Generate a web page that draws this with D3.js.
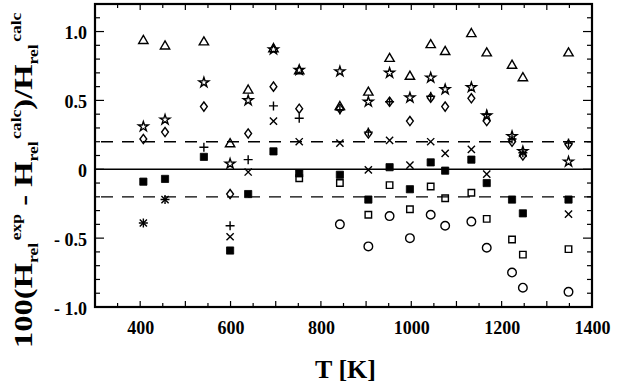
<!DOCTYPE html>
<html><head><meta charset="utf-8">
<script src="https://cdn.jsdelivr.net/npm/d3@7"></script>
<style>html,body{margin:0;padding:0;background:#fff;}</style>
</head><body>
<svg id="c" width="628" height="385"></svg>
<script>
// ---- data ----
const temps = [407, 455, 541, 599, 639, 695, 752, 842, 905, 952, 997, 1043, 1075, 1133, 1167, 1223, 1247, 1348];
const triangleVals = [0.94, 0.90, 0.93, 0.19, 0.58, 0.88, 0.72, 0.46, 0.565, 0.81, 0.68, 0.91, 0.86, 0.99, 0.85, 0.76, 0.67, 0.85];
const starVals     = [0.31, 0.36, 0.63, 0.04, 0.50, 0.87, 0.72, 0.71, 0.49, 0.70, 0.52, 0.665, 0.58, 0.595, 0.39, 0.24, 0.13, 0.055];
const diamondVals  = [0.22, 0.27, 0.455, -0.18, 0.26, 0.60, 0.44, 0.44, 0.26, 0.49, 0.35, 0.52, 0.455, 0.515, 0.35, 0.20, 0.10, 0.18];
const plusVals     = [-0.39, -0.22, 0.16, -0.41, 0.07, 0.46, 0.37, 0.43, 0.27, 0.49, null, 0.53, null, null, 0.40, 0.22, 0.12, 0.19];
const crossVals    = [-0.39, -0.22, null, -0.49, -0.02, 0.35, 0.20, 0.19, -0.005, 0.21, 0.03, 0.20, 0.115, 0.145, -0.035, null, null, -0.325];
const filledSqVals = [-0.09, -0.07, 0.09, -0.59, -0.18, 0.13, -0.03, -0.04, -0.22, 0.015, -0.145, 0.05, -0.01, 0.07, -0.10, -0.22, -0.32, -0.22];
const openSqVals   = [null, null, null, null, null, null, -0.065, -0.10, -0.33, -0.115, -0.29, -0.125, -0.21, -0.17, -0.36, -0.51, -0.62, -0.58];
const circleVals   = [null, null, null, null, null, null, null, -0.40, -0.56, -0.34, -0.50, -0.33, -0.41, -0.38, -0.57, -0.75, -0.86, -0.89];
const xTickVals = [400, 600, 800, 1000, 1200, 1400];
const yTickVals = [1.0, 0.5, 0, -0.5, -1.0];
const yTickLabels = ["1.0", "0.5", "0", "- 0.5", "- 1.0"];
const refLines = [0.2, -0.2];

const series = [
  {vals: triangleVals, type: "triangle"},
  {vals: starVals, type: "star"},
  {vals: diamondVals, type: "diamond"},
  {vals: plusVals, type: "plus"},
  {vals: crossVals, type: "cross"},
  {vals: filledSqVals, type: "fsquare"},
  {vals: openSqVals, type: "osquare"},
  {vals: circleVals, type: "circle"}
];

// ---- layout ----
const serif = "'Liberation Serif','Times New Roman',serif";
const L = 95, R = 592, T = 4, B = 307;
const svg = d3.select("#c");
svg.append("rect").attr("width",628).attr("height",385).attr("fill","#fff");
const x = d3.scaleLinear().domain([300, 1400]).range([L, R]);
const y = d3.scaleLinear().domain([-1.0, 1.2]).range([B, T]);

// ticks (inward, all four sides)
const xMinor = d3.range(300, 1401, 50);
const yMinor = d3.range(-10, 13, 1).map(v => v / 10);
const tg = svg.append("g").attr("stroke","#000").attr("stroke-width",1.2);
xMinor.forEach(v => {
  const len = (v % 100 === 0) ? 6 : 4;
  tg.append("line").attr("x1",x(v)).attr("x2",x(v)).attr("y1",B).attr("y2",B-len);
  tg.append("line").attr("x1",x(v)).attr("x2",x(v)).attr("y1",T).attr("y2",T+len);
});
yMinor.forEach(v => {
  const len = (Math.abs(Math.round(v*10)) % 5 === 0) ? 9 : 5;
  tg.append("line").attr("y1",y(v)).attr("y2",y(v)).attr("x1",L).attr("x2",L+len);
  tg.append("line").attr("y1",y(v)).attr("y2",y(v)).attr("x1",R).attr("x2",R-len);
});

// tick labels via axes
const xAxis = svg.append("g").attr("transform",`translate(0,${B})`)
  .call(d3.axisBottom(x).tickValues(xTickVals).tickSize(0).tickPadding(14).tickFormat(d3.format("d")));
xAxis.select(".domain").remove();
xAxis.selectAll("text").attr("font-family",serif).attr("font-weight","bold").attr("font-size",18).attr("fill","#000");
const yAxis = svg.append("g").attr("transform",`translate(${L},0)`)
  .call(d3.axisLeft(y).tickValues(yTickVals).tickSize(0).tickPadding(8).tickFormat((d,i)=>yTickLabels[i]));
yAxis.select(".domain").remove();
yAxis.selectAll("text").attr("font-family",serif).attr("font-weight","bold").attr("font-size",18).attr("fill","#000").attr("dy","0.4em");

// reference lines
svg.append("line").attr("x1",L).attr("x2",R).attr("y1",y(0)).attr("y2",y(0)).attr("stroke","#000").attr("stroke-width",1.6);
refLines.forEach(v => {
  svg.append("line").attr("x1",L).attr("x2",R).attr("y1",y(v)).attr("y2",y(v))
    .attr("stroke","#000").attr("stroke-width",1.3).attr("stroke-dasharray","12,9").attr("stroke-dashoffset",-6);
});

// markers
function markerPath(type) {
  switch (type) {
    case "triangle": return d3.symbol(d3.symbolTriangle, 38)();
    case "star": return d3.symbol(d3.symbolStar, 30)();
    case "diamond": return "M0,-4.6L3.4,0L0,4.6L-3.4,0Z";
    case "plus": return "M-4.5,0H4.5M0,-4.5V4.5";
    case "cross": return "M-3.6,-3.6L3.6,3.6M-3.6,3.6L3.6,-3.6";
    case "fsquare": return d3.symbol(d3.symbolSquare, 52)();
    case "osquare": return d3.symbol(d3.symbolSquare, 42)();
    case "circle": return d3.symbol(d3.symbolCircle, 58)();
  }
}
series.forEach(s => {
  const pts = temps.map((t,i) => ({t, v: s.vals[i]})).filter(d => d.v !== null);
  const filled = s.type === "fsquare";
  svg.append("g").selectAll("path").data(pts).join("path")
    .attr("transform", d => `translate(${x(d.t)},${y(d.v) + (s.type==="triangle"?1:0)})`)
    .attr("d", markerPath(s.type))
    .attr("fill", filled ? "#000" : "none")
    .attr("stroke", "#000")
    .attr("stroke-width", filled ? 0.8 : 1.4)
    .attr("stroke-linejoin","miter");
});

// frame
svg.append("rect").attr("x",L).attr("y",T).attr("width",R-L).attr("height",B-T)
  .attr("fill","none").attr("stroke","#000").attr("stroke-width",2.2);

// x title
svg.append("text").attr("x",(L+R)/2+2).attr("y",378).attr("text-anchor","middle")
  .attr("font-family",serif).attr("font-weight","bold").attr("font-size",26).text("T [K]");

// y title (rotated, with sub/superscripts)
const yg = svg.append("g");
const yt = yg.append("text").attr("font-family",serif).attr("font-weight","bold").attr("font-size",26).attr("fill","#000");
const pieces = [["100(H","n"],["rel","sub"],["exp","sup"],[" - H","n"],["rel","sub"],["calc","sup"],[")/H","n"],["rel","sub"],["calc","sup"]];
let shift = 0;
pieces.forEach(([txt, kind]) => {
  const target = kind === "sub" ? 6 : kind === "sup" ? -11 : 0;
  const ts = yt.append("tspan").attr("dy", target - shift).text(txt);
  if (kind !== "n") ts.attr("font-size", 14);
  if (kind === "sup") ts.attr("dx", 2);
  shift = target;
});
const w = yt.node().getComputedTextLength();
yt.attr("x", -w/2);
const sx = 328 / w;
yg.attr("transform", `translate(32,184) rotate(-90) scale(${sx},1)`);
</script>
</body></html>
